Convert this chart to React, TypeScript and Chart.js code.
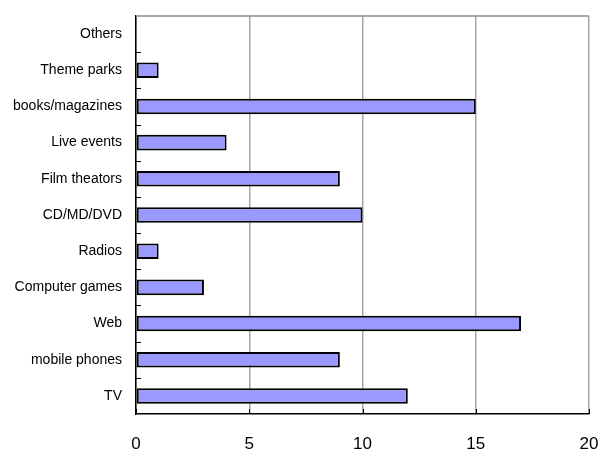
import React, { useEffect, useRef } from "react";
import { Chart, registerables } from "chart.js";

Chart.register(...registerables);

const categories = [
  "Others",
  "Theme parks",
  "books/magazines",
  "Live events",
  "Film theators",
  "CD/MD/DVD",
  "Radios",
  "Computer games",
  "Web",
  "mobile phones",
  "TV",
];
const values = [0, 1, 15, 4, 9, 10, 1, 3, 17, 9, 12];
const xTicks = [0, 5, 10, 15, 20];

const framePlugin = {
  id: "framePlugin",
  afterDraw(chart: any) {
    const ctx = chart.ctx;
    const { left, right, top, bottom } = chart.chartArea;
    const ys = chart.scales.y;
    const xs = chart.scales.x;
    ctx.save();
    ctx.strokeStyle = "#8c8c8c";
    ctx.lineWidth = 1.5;
    ctx.beginPath();
    ctx.moveTo(left, top);
    ctx.lineTo(right, top);
    ctx.stroke();
    ctx.strokeStyle = "#000";
    ctx.lineWidth = 1;
    for (let i = 1; i < categories.length; i++) {
      const y = Math.round(ys.getPixelForValue(i - 0.5)) + 0.5;
      ctx.beginPath();
      ctx.moveTo(left, y);
      ctx.lineTo(left + 5, y);
      ctx.stroke();
    }
    for (const v of xTicks) {
      const x = Math.round(xs.getPixelForValue(v)) + 0.5;
      ctx.beginPath();
      ctx.moveTo(x, bottom);
      ctx.lineTo(x, bottom - 5);
      ctx.stroke();
    }
    ctx.restore();
  },
};

export default function App() {
  const ref = useRef<HTMLCanvasElement>(null);
  useEffect(() => {
    if (!ref.current) return;
    const chart = new Chart(ref.current, {
      type: "bar",
      data: {
        labels: categories,
        datasets: [
          {
            data: values,
            backgroundColor: "#9999ff",
            borderColor: "#000000",
            borderWidth: 2,
            borderSkipped: false,
            barPercentage: 0.43,
            categoryPercentage: 1,
          },
        ],
      },
      options: {
        indexAxis: "y",
        responsive: false,
        animation: false,
        layout: { padding: { top: 16, right: 15, left: 0, bottom: 0 } },
        plugins: {
          legend: { display: false },
          tooltip: { enabled: false },
        },
        scales: {
          x: {
            min: 0,
            max: 20,
            afterBuildTicks(scale: any) {
              scale.ticks = xTicks.map((v) => ({ value: v }));
            },
            afterFit(scale: any) {
              scale.height = 36;
              scale.paddingLeft = 0;
              scale.paddingRight = 0;
            },
            grid: {
              color: "#a6a6a6",
              lineWidth: 1.5,
              drawTicks: false,
            },
            border: { color: "#000", width: 1.5 },
            ticks: {
              color: "#000",
              padding: 20,
              font: { family: "'Liberation Sans', Arial, sans-serif", size: 17 },
            },
          },
          y: {
            afterFit(scale: any) {
              scale.width = 136;
              scale.paddingTop = 0;
              scale.paddingBottom = 0;
            },
            grid: { display: false, drawTicks: false },
            border: { color: "#000", width: 1.5 },
            ticks: {
              color: "#000",
              padding: 14,
              autoSkip: false,
              font: { family: "'Liberation Sans', Arial, sans-serif", size: 14 },
            },
          },
        },
      },
      plugins: [framePlugin],
    });
    return () => chart.destroy();
  }, []);
  return (
    <div style={{ position: "absolute", left: 0, top: 0, width: 604, height: 450 }}>
      <canvas ref={ref} width={604} height={450} />
    </div>
  );
}
